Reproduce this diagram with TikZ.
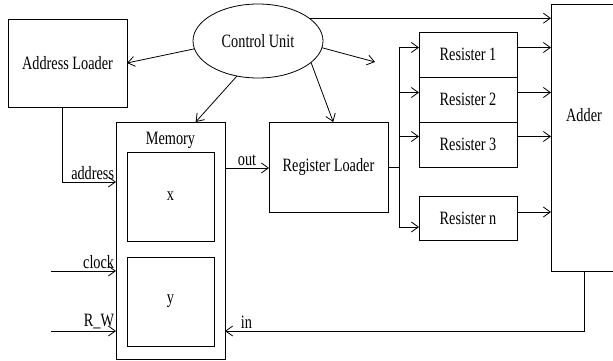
\documentclass[tikz,border=0pt]{standalone}
\usepackage{fontspec}
\setmainfont[FakeStretch=0.76]{Liberation Serif}
\usetikzlibrary{shapes.geometric,positioning,calc,arrows.meta}

\begin{document}
\begin{tikzpicture}[x=1pt,y=-1pt,line width=0.8pt,
    font=\fontsize{18.8}{22}\selectfont,
    arr/.style={-{Straight Barb[length=7pt,width=10pt]}},
    blk/.style={draw,rectangle,inner sep=0pt,outer sep=0pt}]
    \useasboundingbox (0,0) rectangle (613,361);

    \node[blk,minimum width=119pt,minimum height=88pt] (addr) at (67.5,63) {Address Loader};
    \node[draw,ellipse,minimum width=130pt,minimum height=74pt,inner sep=0pt,outer sep=0pt] (ctrl) at (258,41) {Control Unit};
    \node[blk,minimum width=109pt,minimum height=237pt] (mem) at (170.5,240.5) {};
    \node[below=6pt of mem.north] (memlbl) {Memory};
    \node[blk,minimum width=87pt,minimum height=89pt] (memx) at (170.5,196.5) {x};
    \node[blk,minimum width=87pt,minimum height=89pt] (memy) at (170.5,301.5) {y};
    \node[blk,minimum width=119pt,minimum height=90pt] (regld) at (328.5,167) {Register Loader};
    \node[blk,minimum width=98pt,minimum height=45pt] (reg1) at (468,54.5) {Resister 1};
    \node[blk,minimum width=98pt,minimum height=45pt,below=0pt of reg1] (reg2) {Resister 2};
    \node[blk,minimum width=98pt,minimum height=45pt,below=0pt of reg2] (reg3) {Resister 3};
    \node[blk,minimum width=98pt,minimum height=44pt] (regn) at (468,218) {Resister n};
    \node[blk,minimum width=66pt,minimum height=267pt] (adder) at (584,137.5) {};
    \node (addertxt) at (584,115) {Adder};

    \draw[arr] (ctrl.187) -- (addr.east);
    \draw[arr] (ctrl.239) -- (mem.78);
    \draw[arr] (ctrl.338) -- (regld.84);
    \coordinate (ctrlout) at (375,62);
    \draw[arr] (ctrl.354) -- (ctrlout);
    \draw[arr] (ctrl.24) -- (ctrl.24 -| adder.west);

    \coordinate (addrin) at ($(mem.north west)!.253!(mem.south west)$);
    \draw[arr] ([xshift=-5.5pt]addr.south) |- (addrin) node[pos=1,above left,inner sep=1.5pt] {address};
    \coordinate (clk) at (51,271);
    \draw[arr] (clk) -- (clk -| mem.west) node[above left,inner sep=1.5pt] {clock};
    \coordinate (rw) at (51,331);
    \draw[arr] (rw) -- (rw -| mem.west) node[above left,inner sep=1.5pt] {R\_W};

    \coordinate (memout) at ($(mem.north east)!.194!(mem.south east)$);
    \draw[arr] (memout) -- (memout -| regld.west) node[midway,above,inner sep=2pt] {out};
    \draw[arr] (adder.south) |- (rw -| mem.east) node[pos=.97,above,inner sep=2pt] {in};

    \coordinate (bus) at ($(regld.east)+(11,0)$);
    \draw (regld.east) -- (bus);
    \foreach \r/\s in {reg1/7,reg2/7,reg3/8,regn/-9} {
        \coordinate (\r-in) at ([yshift=\s pt]\r.west);
        \draw[arr] (bus |- \r-in) -- (\r-in);
    }
    \draw (bus |- reg1-in) -- (bus |- regn-in);
    \foreach \r/\s in {reg1/7,reg2/7,reg3/8,regn/6} {
        \coordinate (\r-out) at ([yshift=\s pt]\r.east);
        \draw[arr] (\r-out) -- (\r-out -| adder.west);
    }
\end{tikzpicture}
\end{document}
